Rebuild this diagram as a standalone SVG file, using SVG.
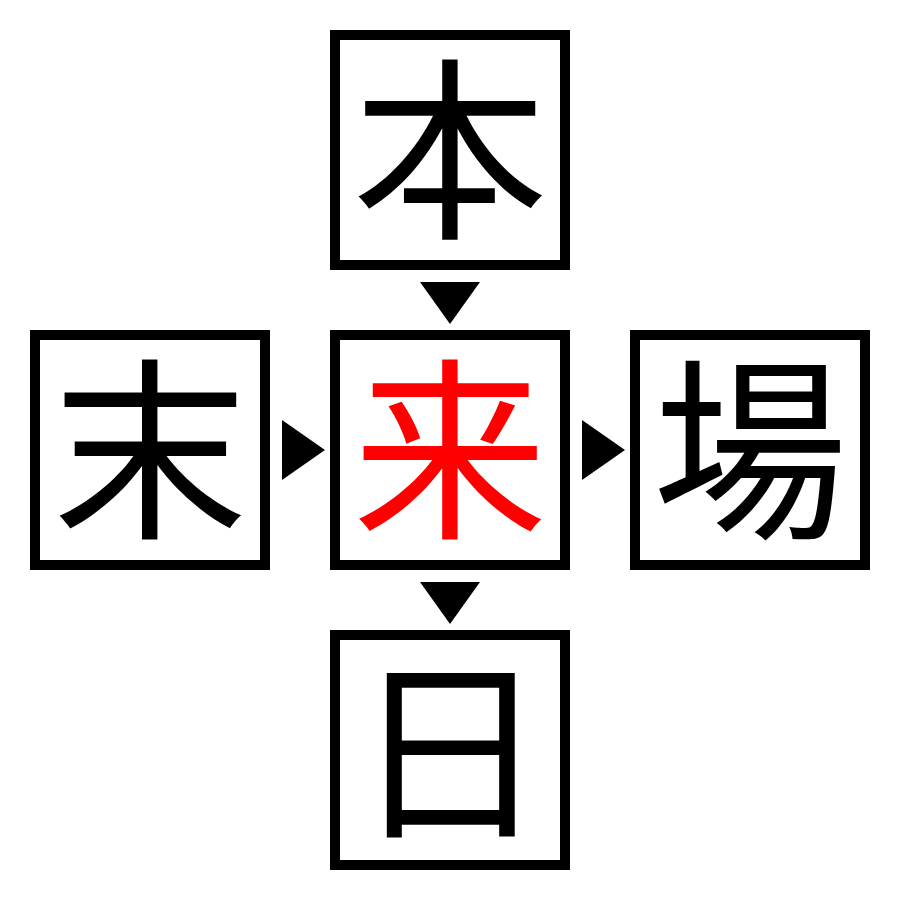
<svg xmlns="http://www.w3.org/2000/svg" width="900" height="900" viewBox="0 0 900 900">
<style>
.box{fill:#fff;stroke:#000;stroke-width:10}
.k{font-family:"Liberation Serif","Noto Sans CJK JP",serif;font-size:195px;text-anchor:middle;fill:#000}
.arr{fill:#000}
</style>
<rect width="900" height="900" fill="#fff"/>
<g id="connectors">
<polygon class="arr" points="420,282 480,282 450,324"/>
<polygon class="arr" points="282,420 282,480 325,450"/>
<polygon class="arr" points="582,420 582,480 625,450"/>
<polygon class="arr" points="420,582 480,582 450,624"/>
</g>
<g id="node-top"><rect class="box" x="335" y="35" width="230" height="230"/><text class="k" x="450" y="224">本</text></g>
<g id="node-left"><rect class="box" x="35" y="335" width="230" height="230"/><text class="k" x="150" y="524">末</text></g>
<g id="node-center"><rect class="box" x="335" y="335" width="230" height="230"/><text class="k" x="450" y="524" style="fill:#ff0000">来</text></g>
<g id="node-right"><rect class="box" x="635" y="335" width="230" height="230"/><text class="k" x="750" y="524">場</text></g>
<g id="node-bottom"><rect class="box" x="335" y="635" width="230" height="230"/><text class="k" x="450" y="824">日</text></g>
</svg>
